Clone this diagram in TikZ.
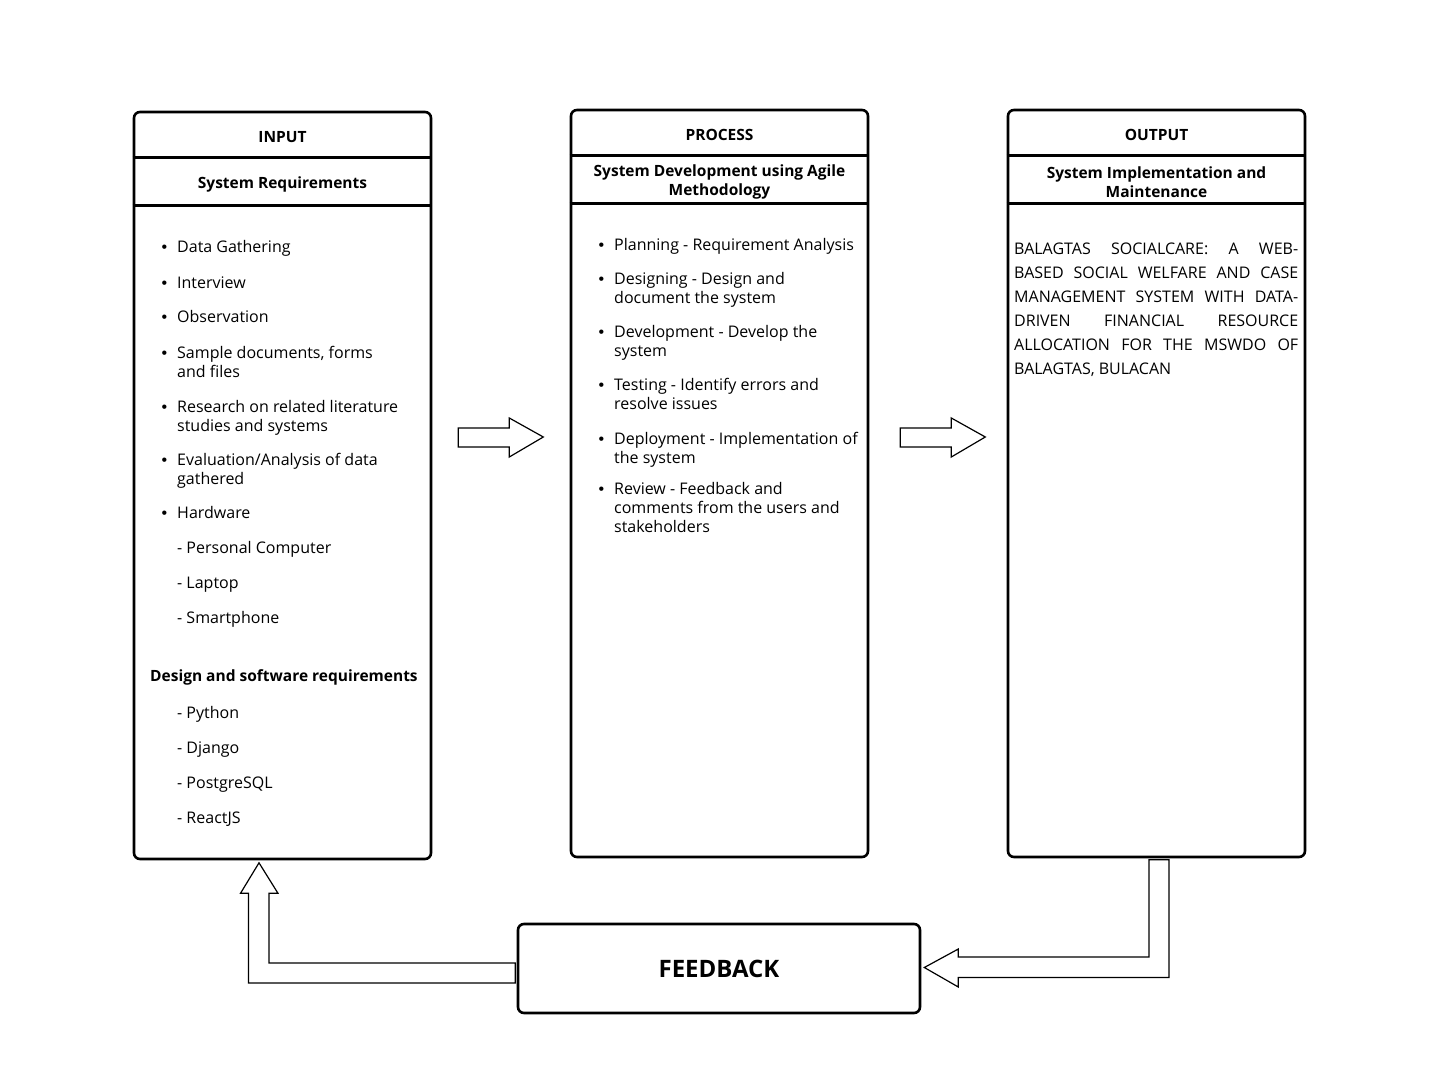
\documentclass[tikz,border=0pt]{standalone}
\usepackage{fontspec}
\setmainfont{Open Sans}
\newfontfamily\bulfont{Liberation Sans}
\usepackage{tikz}
\usetikzlibrary{calc}
\newcommand\itembul{\llap{{\bulfont\textbullet}\hskip 10pt}}

\begin{document}
\begin{tikzpicture}[
  x=1pt, y=-1pt,
  font=\fontsize{16}{19}\selectfont,
  panel/.style={draw, line width=2.6pt, rounded corners=6pt, fill=white,
                minimum width=297pt, minimum height=747pt, inner sep=0pt},
  divider/.style={line width=2.6pt},
  head/.style={font=\fontsize{15.5}{19}\selectfont\bfseries, align=center, inner sep=0pt},
  entry/.style={anchor=base west, align=left, inner sep=0pt},
  blockarr/.style={draw, line width=1.2pt, fill=white, line join=miter}
]
\useasboundingbox (0,0) rectangle (1440,1083);

% ---- Boxes ----
\node[panel] (input)   at (282.5,485.5) {};
\node[panel] (process) at (719.5,483.5) {};
\node[panel] (output)  at (1156.5,483.5) {};
\node[panel, minimum width=402pt, minimum height=89pt,
      font=\fontsize{24}{28}\selectfont\bfseries] (feedback) at (719,968.5) {FEEDBACK};

% header rows
\draw[divider] ($(input.north west)+(0,47)$) -- ($(input.north east)+(0,47)$);
\draw[divider] ($(input.north west)+(0,95)$) -- ($(input.north east)+(0,95)$);
\draw[divider] ($(process.north west)+(0,47)$) -- ($(process.north east)+(0,47)$);
\draw[divider] ($(process.north west)+(0,95)$) -- ($(process.north east)+(0,95)$);
\draw[divider] ($(output.north west)+(0,47)$) -- ($(output.north east)+(0,47)$);
\draw[divider] ($(output.north west)+(0,95)$) -- ($(output.north east)+(0,95)$);

\node[head] (inT)  at ($(input.north)+(0,26)$) {INPUT};
\node[head] (inS)  at ($(input.north)+(0,74)$) {System Requirements};
\node[head] (prT)  at ($(process.north)+(0,26)$) {PROCESS};
\node[head] (prS)  at ($(process.north)+(0,73.5)$) {System Development using Agile\\Methodology};
\node[head] (outT) at ($(output.north)+(0,26)$) {OUTPUT};
\node[head] (outS) at ($(output.north)+(0,73.5)$) {System Implementation and\\Maintenance};

% ---- Input list (base = last line) ----
\node[entry] (in1)  at (177,253) {\itembul Data Gathering};
\node[entry] (in2)  at (177,288) {\itembul Interview};
\node[entry] (in3)  at (177,323) {\itembul Observation};
\node[entry] (in4)  at (177,377) {\itembul Sample documents, forms\\and files};
\node[entry] (in5)  at (177,431) {\itembul Research on related literature\\studies and systems};
\node[entry] (in6)  at (177,484) {\itembul Evaluation/Analysis of data\\gathered};
\node[entry] (in7)  at (177,518) {\itembul Hardware};
\node[entry] (hw1)  at (177,553) {- Personal Computer};
\node[entry] (hw2)  at (177,588) {- Laptop};
\node[entry] (hw3)  at (177,623) {- Smartphone};
\node[entry, font=\fontsize{15.5}{19}\selectfont\bfseries] (sw) at (150,681)
  {Design and software requirements};
\node[entry] (sw1)  at (177,718) {- Python};
\node[entry] (sw2)  at (177,753) {- Django};
\node[entry] (sw3)  at (177,788) {- PostgreSQL};
\node[entry] (sw4)  at (177,823) {- ReactJS};

% ---- Process list ----
\node[entry] (pr1) at (614,251) {\itembul Planning - Requirement Analysis};
\node[entry] (pr2) at (614,304) {\itembul Designing - Design and\\document the system};
\node[entry] (pr3) at (614,356) {\itembul Development - Develop the\\system};
\node[entry] (pr4) at (614,409) {\itembul Testing - Identify errors and\\resolve issues};
\node[entry] (pr5) at (614,463) {\itembul Deployment - Implementation of\\the system};
\node[entry] (pr6) at (614,532) {\itembul Review - Feedback and\\comments from the users and\\stakeholders};

% ---- Output text ----
\node[entry, font=\fontsize{16}{24}\selectfont] (title) at (1014,374.5)
  {\makebox[284pt][s]{BALAGTAS SOCIALCARE: A WEB-}\\
   \makebox[284pt][s]{BASED SOCIAL WELFARE AND CASE}\\
   \makebox[284pt][s]{MANAGEMENT SYSTEM WITH DATA-}\\
   \makebox[284pt][s]{DRIVEN FINANCIAL RESOURCE}\\
   \makebox[284pt][s]{ALLOCATION FOR THE MSWDO OF}\\
   BALAGTAS, BULACAN};

% ---- Block arrows ----
\draw[blockarr] ($(input.east)+(26,-57.5)$) -- ++(51,0) -- ++(0,-10) -- ++(34,19)
  -- ++(-34,20) -- ++(0,-10) -- ++(-51,0) -- cycle;
\draw[blockarr] ($(process.east)+(31,-55.5)$) -- ++(51,0) -- ++(0,-10) -- ++(34,19)
  -- ++(-34,20) -- ++(0,-10) -- ++(-51,0) -- cycle;

% output -> feedback
\draw[blockarr] ($(output.south)+(-7.5,1.5)$) |- ($(feedback.east)+(37,-11.5)$)
  -- ++(0,-8) -- ($(feedback.east)+(3,-1)$) -- ++(34,19.5) -- ++(0,-9.5)
  -| ($(output.south)+(12.5,1.5)$) -- cycle;
% feedback -> input
\draw[blockarr] ($(feedback.west)+(-1.5,-5.5)$) -| ($(input.south)+(-13.5,33)$)
  -- ++(9,0) -- ($(input.south)+(-23.5,2.5)$) -- ++(-18.5,30.5) -- ++(8,0)
  |- ($(feedback.west)+(-1.5,14.5)$) -- cycle;

\end{tikzpicture}
\end{document}
